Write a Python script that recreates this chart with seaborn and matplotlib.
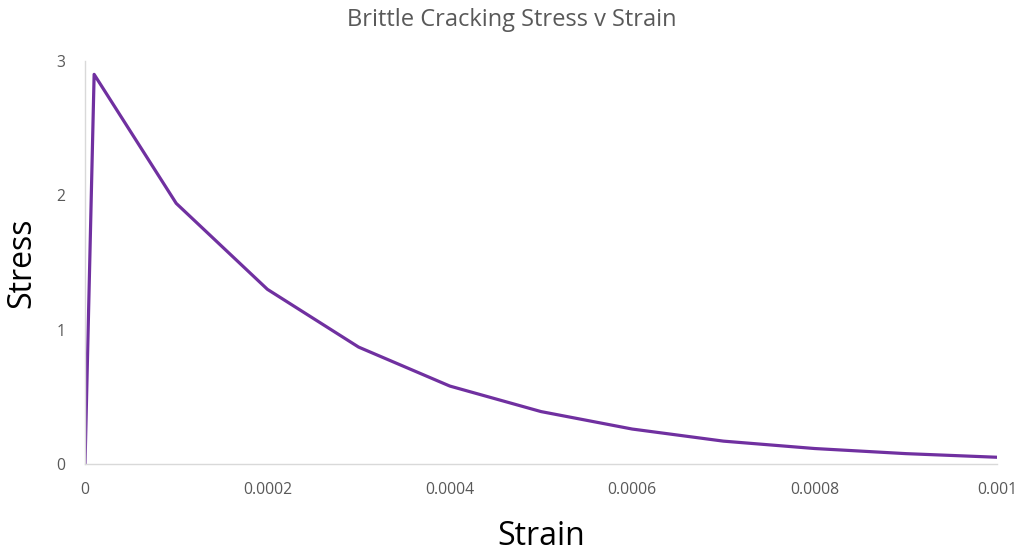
import matplotlib
matplotlib.use("Agg")
import matplotlib.pyplot as plt
import seaborn as sns
import pandas as pd

strain = [0.0, 0.00001, 0.0001, 0.0002, 0.0003, 0.0004, 0.0005, 0.0006, 0.0007, 0.0008, 0.0009, 0.001]
stress = [0.0, 2.9, 1.94, 1.30, 0.87, 0.58, 0.39, 0.26, 0.17, 0.115, 0.077, 0.05]
x_ticks = [0, 0.0002, 0.0004, 0.0006, 0.0008, 0.001]
x_tick_labels = ["0", "0.0002", "0.0004", "0.0006", "0.0008", "0.001"]
y_ticks = [0, 1, 2, 3]
y_tick_labels = ["0", "1", "2", "3"]

sns.set_style("white")
plt.rcParams['font.family'] = ['Open Sans', 'DejaVu Sans']

df = pd.DataFrame({"Strain": strain, "Stress": stress})
fig = plt.figure(figsize=(10.23, 5.54), dpi=100)
ax = fig.add_axes([0.0831, 0.1625, 0.8915, 0.7275])
sns.lineplot(data=df, x="Strain", y="Stress", ax=ax, color="#7030A0", linewidth=2.3, sort=False)

ax.set_xlim(0, 0.001)
ax.set_ylim(0, 3)
ax.set_xticks(x_ticks)
ax.set_xticklabels(x_tick_labels, color="#595959", fontsize=11.3)
ax.set_yticks(y_ticks)
ax.set_yticklabels(y_tick_labels, color="#595959", fontsize=11.3)
ax.tick_params(axis="both", length=0)
ax.tick_params(axis="x", pad=13)
ax.tick_params(axis="y", pad=14)
for s in ["top", "right"]:
    ax.spines[s].set_visible(False)
for s in ["left", "bottom"]:
    ax.spines[s].set_color("#D9D9D9")
    ax.spines[s].set_linewidth(1.0)
ax.grid(False)

ax.set_xlabel("Strain", fontsize=23, color="black", va="center")
ax.set_ylabel("Stress", fontsize=23, color="black", va="center")
ax.xaxis.set_label_coords(0.5, -0.181)
ax.yaxis.set_label_coords(-0.069, 0.5)
fig.suptitle("Brittle Cracking Stress v Strain", fontsize=17, color="#595959", y=0.963, va="center")

fig.savefig("out.png", dpi=100)
